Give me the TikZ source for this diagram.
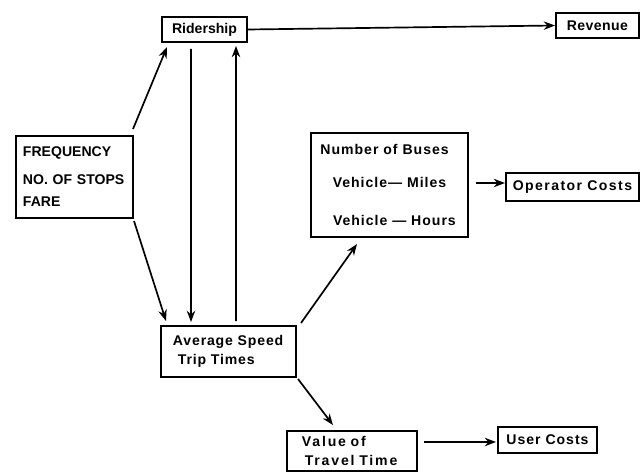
\documentclass[tikz,border=0pt]{standalone}
\usepackage{fontspec}
\setmainfont{Liberation Sans}
\usetikzlibrary{arrows.meta,calc}

\tikzset{
  box/.style={draw, line width=1.4pt, inner sep=0pt, font=\bfseries},
  wide/.style={font=\bfseries\addfontfeature{LetterSpace=#1}},
  flow/.style={->, line width=1.2pt},
}

\begin{document}
\begin{tikzpicture}[x=0.025cm, y=-0.025cm, >={Stealth[length=8pt,width=6pt]}]
  \useasboundingbox (0,0) rectangle (641,472);

  % boxes
  \node[box, minimum width=2.125cm, minimum height=0.625cm] (rider) at (204.5,29.5) {Ridership};
  \node[box, wide=3, minimum width=2.075cm, minimum height=0.625cm] (revenue) at (597.5,25.5) {Revenue};
  \node[box, minimum width=2.925cm, minimum height=2.05cm, inner xsep=0.175cm,
        text width=2.575cm, align=left] (freq) at (74.5,177)
        {FREQUENCY\\[7.9pt] NO. OF STOPS\\[3.6pt] FARE};
  \node[box, wide=7, minimum width=3.925cm, minimum height=2.6cm, align=center] (number) at (389.5,185)
        {Number of Buses\hspace*{7pt}\\[12pt] Vehicle--- Miles\\[15pt] \hspace*{7pt}Vehicle --- Hours};
  \node[box, wide=10, minimum width=3.325cm, minimum height=0.7cm] (operator) at (572.5,187) {Operator Costs};
  \node[box, wide=6, minimum width=3.375cm, minimum height=1.275cm, inner xsep=0.3cm,
        text width=2.775cm, align=left] (avg) at (228.5,351.5)
        {Average Speed\\[2pt] \hspace*{3.5pt}Trip Times};
  \node[box, wide=13, minimum width=3.25cm, minimum height=1cm, inner xsep=0.375cm,
        text width=2.5cm, align=left] (value) at (352,451)
        {Value of\\[2pt] \hspace*{2pt}Travel Time};
  \node[box, wide=7, minimum width=2.475cm, minimum height=0.65cm] (user) at (547.5,440) {User Costs};

  % arrows
  \draw[flow] (rider.east) -- (revenue.west);
  \draw[flow] ($(freq.north east)+(-1,-6)$) -- ($(rider.south west)+(6,4)$);
  \draw[flow] ($(freq.south east)+(0,2)$) -- ($(avg.north west)+(6,-4)$);
  \draw[flow] ($(rider.south west)+(30,6)$) -- ($(avg.north west)+(31,-3)$);
  \draw[flow] ($(avg.north west)+(76,-4)$) -- ($(rider.south west)+(75,3)$);
  \draw[flow] ($(avg.north east)+(4,-2)$) -- ($(number.south west)+(47,6)$);
  \draw[flow] ($(avg.south east)+(1,1)$) -- ($(value.north west)+(47,-5)$);
  \draw[flow] ($(number.east)+(7,-2)$) -- ($(operator.west)+(0,-4)$);
  \draw[flow] ($(value.east)+(6,-9)$) -- ($(user.west)+(-1,2)$);
\end{tikzpicture}
\end{document}
